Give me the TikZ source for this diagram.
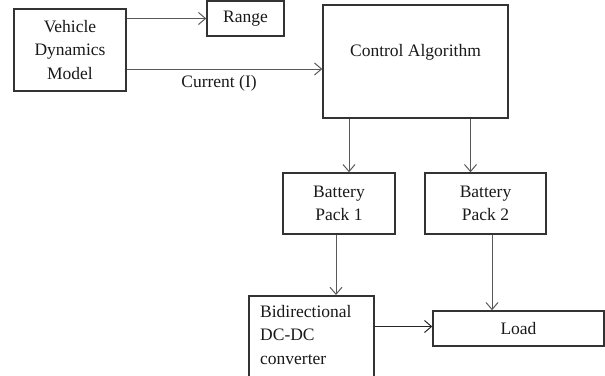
\documentclass[tikz,border=0pt]{standalone}
\usepackage{fontspec}
\setmainfont{Liberation Serif}
\usetikzlibrary{arrows.meta,calc}
\begin{document}
\begin{tikzpicture}[x=1pt,y=-1pt,
  box/.style={draw=black!80,line width=1.5pt,rectangle,inner sep=0pt,align=center,
    font=\fontsize{17.5}{23.5}\selectfont,text=black!90},
  txt/.style={inner sep=0pt,align=center,font=\fontsize{17.5}{23.5}\selectfont,text=black!90},
  arr/.style={draw=black!65,line width=1pt,-{Straight Barb[length=7pt,width=12pt]}},
  thickarr/.style={draw=black!85,line width=1.8pt,-{Straight Barb[length=7pt,width=12pt,line width=1pt]}}]
\useasboundingbox (0,0) rectangle (605,375);
\clip (0,0) rectangle (605,375);
\node[box,minimum width=112pt,minimum height=82pt] (vdm) at (70,50) {Vehicle\\Dynamics\\Model};
\node[box,minimum width=77pt,minimum height=35pt] (range) at (245.5,18.5) {Range};
\node[box,minimum width=185pt,minimum height=113pt] (ca) at (415.5,61.5) {};
\node[txt] (catext) at (415.5,52) {Control Algorithm};
\node[box,minimum width=112pt,minimum height=61pt] (bp1) at (339,203.5) {Battery\\Pack 1};
\node[box,minimum width=121pt,minimum height=61pt] (bp2) at (485.5,203.5) {Battery\\Pack 2};
\node[box,minimum width=125pt,minimum height=90pt,anchor=north west] (bd) at (248,295) {};
\node[txt,align=left,anchor=north west] (bdtext) at (260,305) {Bidirectional\\DC-DC\\converter};
\node[box,minimum width=171pt,minimum height=35pt] (load) at (518.5,328.5) {Load};
\node[txt] (cur) at (219,83) {Current (I)};
\draw[arr] (vdm.north east |- range.west) -- (range.west);
\draw[arr] ([yshift=-19pt]vdm.east) -- ([yshift=-19pt]vdm.east -| ca.west);
\draw[arr] ([xshift=10pt]bp1.north |- ca.south) -- ([xshift=10pt]bp1.north);
\draw[arr] ([xshift=-15pt]bp2.north |- ca.south) -- ([xshift=-15pt]bp2.north);
\draw[arr] ([xshift=-3pt]bp1.south) -- ([xshift=-3pt]bp1.south |- bd.north);
\draw[arr] ([xshift=6.5pt]bp2.south) -- ([xshift=6.5pt]bp2.south |- load.north);
\draw[thickarr] ([yshift=2pt]load.west -| bd.east) -- ([yshift=2pt]load.west);
\end{tikzpicture}
\end{document}
